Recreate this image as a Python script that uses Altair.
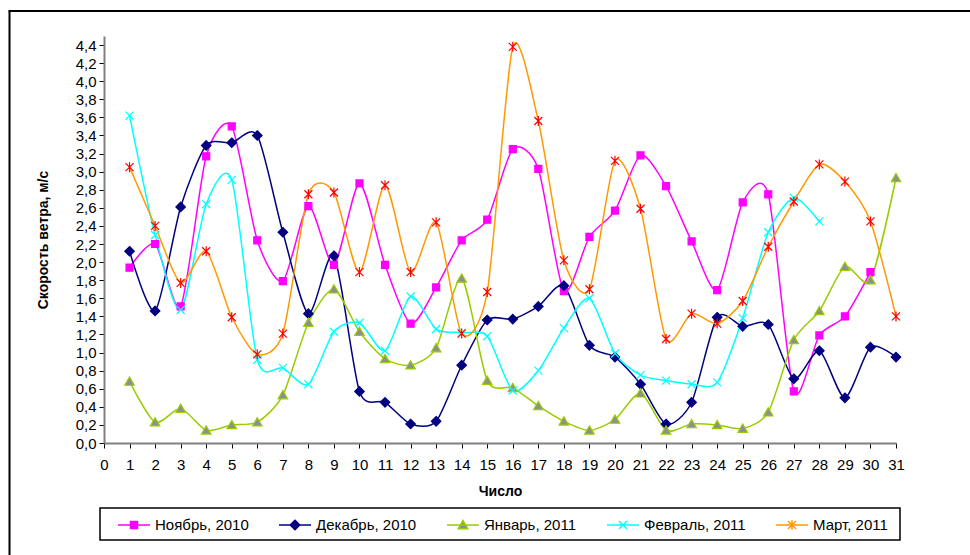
import altair as alt
import pandas as pd

# Daily mean wind speed, m/s, by month
series = ["Ноябрь, 2010", "Декабрь, 2010", "Январь, 2011", "Февраль, 2011", "Март, 2011"]

nov = [1.94, 2.20, 1.51, 3.17, 3.50, 2.24, 1.79, 2.62, 1.97, 2.87,
       1.97, 1.32, 1.72, 2.24, 2.47, 3.25, 3.03, 1.68, 2.28, 2.57,
       3.18, 2.84, 2.23, 1.69, 2.66, 2.75, 0.57, 1.19, 1.40, 1.89]
dec = [2.12, 1.46, 2.61, 3.29, 3.32, 3.40, 2.33, 1.43, 2.07, 0.57,
       0.45, 0.21, 0.24, 0.86, 1.36, 1.37, 1.51, 1.74, 1.08, 0.95,
       0.65, 0.21, 0.45, 1.39, 1.29, 1.31, 0.71, 1.02, 0.50, 1.06, 0.95]
jan = [0.68, 0.23, 0.38, 0.14, 0.20, 0.23, 0.53, 1.33, 1.70, 1.23,
       0.93, 0.86, 1.05, 1.82, 0.69, 0.61, 0.41, 0.24, 0.14, 0.26,
       0.55, 0.14, 0.21, 0.20, 0.16, 0.34, 1.14, 1.46, 1.95, 1.80, 2.93]
feb = [3.62, 2.30, 1.47, 2.64, 2.91, 0.92, 0.83, 0.65, 1.23, 1.33,
       1.02, 1.62, 1.26, 1.22, 1.18, 0.58, 0.80, 1.27, 1.60, 0.99,
       0.75, 0.69, 0.65, 0.67, 1.38, 2.33, 2.71, 2.45]
mar = [3.05, 2.40, 1.77, 2.12, 1.39, 0.98, 1.21, 2.75, 2.77, 1.89,
       2.85, 1.89, 2.44, 1.21, 1.67, 4.38, 3.56, 2.02, 1.70, 3.12,
       2.59, 1.15, 1.43, 1.32, 1.57, 2.17, 2.67, 3.08, 2.89, 2.45, 1.40]

x_ticks = list(range(0, 32))
y_ticks = [round(i * 0.2, 1) for i in range(23)]

line_colors = ["#FF00FF", "#000080", "#99CC00", "#00FFFF", "#FF9900"]
marker_fill = ["#FF00FF", "#000080", "#8E8E8E", "#00FFFF", "#FF0000"]
marker_stroke = ["#FF00FF", "#000080", "#99CC00", "#00FFFF", "#FF0000"]

# marker outlines in the unit box [-1, 1]
marker_paths = [
    "M-0.7,-0.7H0.7V0.7H-0.7Z",
    "M0,-0.95L0.95,0L0,0.95L-0.95,0Z",
    "M0,-0.9L0.95,0.75H-0.95Z",
    "M-0.8,-0.8L0.8,0.8M-0.8,0.8L0.8,-0.8",
    "M-0.8,-0.8L0.8,0.8M-0.8,0.8L0.8,-0.8M0,-1V1",
]
# legend keys: a line across the key with a small marker in its middle
key_line = "M-1,0H1"
key_paths = [
    key_line + "M-0.22,-0.22H0.22V0.22H-0.22Z",
    key_line + "M0,-0.3L0.3,0L0,0.3L-0.3,0Z",
    key_line + "M0,-0.28L0.3,0.24H-0.3Z",
    key_line + "M-0.25,-0.25L0.25,0.25M-0.25,0.25L0.25,-0.25",
    key_line + "M-0.25,-0.25L0.25,0.25M-0.25,0.25L0.25,-0.25M0,-0.3V0.3",
]

rows = []
for name, vals in zip(series, [nov, dec, jan, feb, mar]):
    for day, v in enumerate(vals, start=1):
        rows.append({"day": day, "speed": v, "series": name})
df = pd.DataFrame(rows)
legend_df = pd.DataFrame({"label": series})

FONT = "Liberation Sans"

x_enc = alt.X("day:Q", scale=alt.Scale(domain=[0, 31], nice=False),
              axis=alt.Axis(values=x_ticks, tickCount=40, title="Число", labelAngle=0,
                            grid=False, labelOverlap=False, labelFlush=False,
                            labelPadding=9, titlePadding=12))
y_enc = alt.Y("speed:Q", scale=alt.Scale(domain=[0, 4.5], nice=False),
              axis=alt.Axis(values=y_ticks, tickCount=30, title="Скорость ветра, м/с",
                            grid=False, labelOverlap=False,
                            labelExpr="replace(format(datum.value, '.1f'), '.', ',')",
                            labelPadding=3, titlePadding=25))

# smoothed lines through every daily value
lines = alt.Chart(df).mark_line(interpolate="cardinal", tension=0.25, strokeWidth=1.5).encode(
    x=x_enc, y=y_enc,
    color=alt.Color("series:N", scale=alt.Scale(domain=series, range=line_colors), legend=None),
    order=alt.Order("day:Q"),
)

points = alt.Chart(df).mark_point(filled=True, size=100, opacity=1, strokeWidth=1.2).encode(
    x=x_enc, y=y_enc,
    shape=alt.Shape("series:N", scale=alt.Scale(domain=series, range=marker_paths), legend=None),
    fill=alt.Fill("series:N", scale=alt.Scale(domain=series, range=marker_fill), legend=None),
    stroke=alt.Stroke("series:N", scale=alt.Scale(domain=series, range=marker_stroke), legend=None),
)

leg = alt.Legend(title=None, orient="none", legendX=13, legendY=472,
                 direction="horizontal", columns=5, padding=0, columnPadding=27,
                 labelFont=FONT, labelFontSize=15, labelColor="#000000", labelOffset=4,
                 symbolSize=1024, symbolStrokeWidth=1.5, symbolOpacity=1)

keys = alt.Chart(legend_df).mark_point(filled=True, size=1024, opacity=1).encode(
    shape=alt.Shape("label:N", scale=alt.Scale(domain=series, range=key_paths), legend=leg),
    fill=alt.Fill("label:N", scale=alt.Scale(domain=series, range=marker_fill), legend=leg),
    stroke=alt.Stroke("label:N", scale=alt.Scale(domain=series, range=line_colors), legend=leg),
).transform_filter("false")

frame_data = alt.Data(values=[{}])
legend_box = alt.Chart(frame_data).mark_rect(
    fillOpacity=0, stroke="#000000", strokeWidth=1.5
).encode(x=alt.value(-4), x2=alt.value(796), y=alt.value(472), y2=alt.value(504))
frame_left = alt.Chart(frame_data).mark_rule(color="#000000", strokeWidth=2).encode(
    x=alt.value(-94.5), y=alt.value(-25), y2=alt.value(540))
frame_top = alt.Chart(frame_data).mark_rule(color="#000000", strokeWidth=2).encode(
    x=alt.value(-95.5), x2=alt.value(880), y=alt.value(-25))

chart = alt.layer(
    lines, points, keys, legend_box, frame_left, frame_top
).resolve_scale(
    shape="independent", fill="independent", stroke="independent"
).properties(
    width=792, height=407,
    autosize=alt.AutoSizeParams(type="none"),
    padding={"left": 104, "top": 36, "right": 74, "bottom": 112},
    background="#FFFFFF",
).configure_view(stroke=None).configure_axis(
    labelFont=FONT, labelFontSize=15, labelColor="#000000",
    titleFont=FONT, titleFontSize=14, titleFontWeight="bold", titleColor="#000000",
    domainColor="#808080", domainWidth=2, tickColor="#000000", tickSize=5,
)

chart.save("out.html", embed_options={"renderer": "svg", "actions": False})
